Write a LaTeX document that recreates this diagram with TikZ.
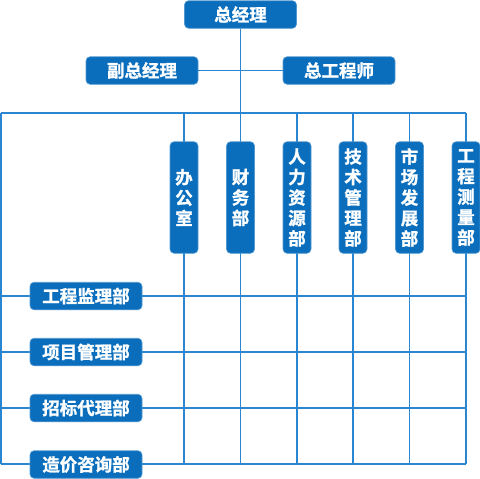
\documentclass[tikz,border=0pt]{standalone}
\usepackage{fontspec}
\newfontfamily\cjk[FakeBold=1.2]{Noto Sans CJK SC Bold}
\definecolor{boxblue}{HTML}{0A6EBD}
\definecolor{lineblue}{HTML}{2A86D0}
\begin{document}
\begin{tikzpicture}[x=1pt,y=-1pt,
  grid/.style={draw=lineblue,line width=1.4pt},
  hbox/.style={fill=boxblue,draw=boxblue!70!white,line width=0.6pt,rounded corners=4pt,
    minimum width=112pt,minimum height=27.5pt,inner sep=0pt,text=white,
    font=\cjk\fontsize{17.5}{20.5}\selectfont},
  vbox/.style={fill=boxblue,draw=boxblue!70!white,line width=0.6pt,rounded corners=4pt,
    minimum width=28pt,minimum height=111.5pt,inner sep=0pt,text=white,align=center,
    font=\cjk\fontsize{17.5}{20.5}\selectfont}]
\useasboundingbox (0,0) rectangle (480,479);
% grid coordinates
\coordinate (tl) at (1,113);
\coordinate (tr) at (466,113);
\coordinate (bl) at (1,464);
\coordinate (br) at (466,464);
\foreach \x/\n in {184/c1,240.5/c2,297/c3,353/c4,409.5/c5,466/c6}{
  \coordinate (\n t) at (\x,113);
  \coordinate (\n b) at (\x,464);
}
\foreach \y/\n in {296/r1,352/r2,408/r3}{
  \coordinate (\n l) at (1,\y);
  \coordinate (\n r) at (466,\y);
}
% grid lines
\draw[grid] (tl) -- (tr);
\draw[grid] (bl) -- (br);
\draw[grid] (tl) -- (bl);
\foreach \n in {c1,c2,c3,c4,c5,c6}{ \draw[grid] (\n t) -- (\n b); }
\foreach \n in {r1,r2,r3}{ \draw[grid] (\n l) -- (\n r); }
% top boxes
\node[hbox] (gm) at (240.5,14.5) {总经理};
\node[hbox] (vgm) at (142,70.5) {副总经理};
\node[hbox] (ce) at (339,70.5) {总工程师};
\draw[grid] (gm) -- (c2t);
\draw[grid] (vgm) -- (ce);
% vertical department boxes
\node[vbox] (d1) at (184,197.5) {办\\公\\室};
\node[vbox] (d2) at (240.5,197.5) {财\\务\\部};
\node[vbox] (d3) at (297,197.5) {人\\力\\资\\源\\部};
\node[vbox] (d4) at (353,197.5) {技\\术\\管\\理\\部};
\node[vbox] (d5) at (409.5,197.5) {市\\场\\发\\展\\部};
\node[vbox] (d6) at (466,197.5) {工\\程\\测\\量\\部};
% left department boxes
\node[hbox] (l1) at (86,296) {工程监理部};
\node[hbox] (l2) at (86,352) {项目管理部};
\node[hbox] (l3) at (86,408) {招标代理部};
\node[hbox] (l4) at (86,464.5) {造价咨询部};
\end{tikzpicture}
\end{document}
